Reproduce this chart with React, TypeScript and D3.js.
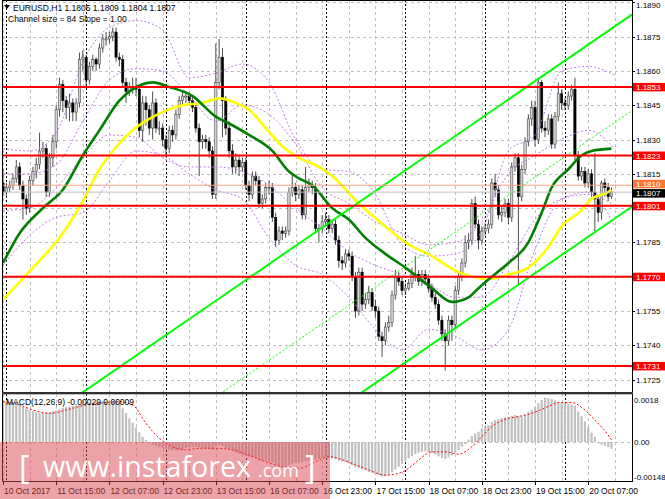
import React from 'react'
import * as d3 from 'd3'

// EURUSD H1, 10 Oct 23:00 .. 20 Oct 14:00 (184 bars)
const firstOpen = 1.1811
const closes = [
  1.1807, 1.1809, 1.1810, 1.1813, 1.1818, 1.1810, 1.1804, 1.1800, 1.1812, 1.1816,
  1.1819, 1.1825, 1.1826, 1.1807, 1.1822, 1.1829, 1.1843, 1.1854, 1.1847, 1.1844,
  1.1846, 1.1842, 1.1846, 1.1865, 1.1866, 1.1856, 1.1862, 1.1865, 1.1863, 1.1870,
  1.1874, 1.1874, 1.1875, 1.1877, 1.1866, 1.1865, 1.1855, 1.1851, 1.1853, 1.1853,
  1.1852, 1.1834, 1.1846, 1.1843, 1.1835, 1.1846, 1.1835, 1.1835, 1.1830, 1.1826,
  1.1834, 1.1832, 1.1841, 1.1847, 1.1849, 1.1849, 1.1847, 1.1844, 1.1835, 1.1829,
  1.1830, 1.1829, 1.1825, 1.1806, 1.1855, 1.1866, 1.1847, 1.1835, 1.1825, 1.1818,
  1.1821, 1.1818, 1.1820, 1.1810, 1.1806, 1.1814, 1.1812, 1.1802, 1.1804, 1.1809,
  1.1809, 1.1796, 1.1786, 1.1790, 1.1789, 1.1790, 1.1807, 1.1809, 1.1806, 1.1808,
  1.1797, 1.1809, 1.1810, 1.1809, 1.1791, 1.1791, 1.1794, 1.1795, 1.1791, 1.1793,
  1.1786, 1.1777, 1.1776, 1.1780, 1.1779, 1.1770, 1.1755, 1.1772, 1.1758, 1.1760,
  1.1763, 1.1757, 1.1755, 1.1744, 1.1742, 1.1748, 1.1750, 1.1762, 1.1770, 1.1768,
  1.1764, 1.1765, 1.1767, 1.1771, 1.1771, 1.1768, 1.1771, 1.1769, 1.1765, 1.1761,
  1.1758, 1.1751, 1.1745, 1.1742, 1.1751, 1.1749, 1.1764, 1.1770, 1.1776, 1.1785,
  1.1786, 1.1802, 1.1793, 1.1786, 1.1790, 1.1791, 1.1793, 1.1811, 1.1808, 1.1797,
  1.1798, 1.1802, 1.1796, 1.1818, 1.1822, 1.1805, 1.1817, 1.1829, 1.1839, 1.1844,
  1.1830, 1.1855, 1.1835, 1.1834, 1.1839, 1.1828, 1.1840, 1.1850, 1.1846, 1.1845,
  1.1849, 1.1852, 1.1823, 1.1814, 1.1816, 1.1811, 1.1815, 1.1807, 1.1804, 1.1798,
  1.1811, 1.1809, 1.1805, 1.1807,
]
const highs = [
  1.1817, 1.1811, 1.1812, 1.1815, 1.1821, 1.1820, 1.1812, 1.1806, 1.1814, 1.1818,
  1.1822, 1.1833, 1.1829, 1.1828, 1.1824, 1.1832, 1.1845, 1.1857, 1.1856, 1.1849,
  1.1850, 1.1848, 1.1848, 1.1868, 1.1869, 1.1867, 1.1864, 1.1867, 1.1866, 1.1872,
  1.1876, 1.1877, 1.1877, 1.1879, 1.1879, 1.1868, 1.1867, 1.1857, 1.1855, 1.1857,
  1.1857, 1.1854, 1.1849, 1.1849, 1.1845, 1.1851, 1.1848, 1.1838, 1.1837, 1.1832,
  1.1836, 1.1836, 1.1843, 1.1849, 1.1851, 1.1851, 1.1850, 1.1849, 1.1846, 1.1837,
  1.1832, 1.1832, 1.1831, 1.1827, 1.1872, 1.1874, 1.1870, 1.1849, 1.1838, 1.1828,
  1.1824, 1.1823, 1.1822, 1.1822, 1.1812, 1.1816, 1.1816, 1.1814, 1.1806, 1.1811,
  1.1812, 1.1811, 1.1798, 1.1792, 1.1792, 1.1792, 1.1809, 1.1815, 1.1811, 1.1810,
  1.1810, 1.1818, 1.1813, 1.1812, 1.1811, 1.1793, 1.1797, 1.1798, 1.1797, 1.1795,
  1.1795, 1.1788, 1.1779, 1.1782, 1.1782, 1.1781, 1.1772, 1.1774, 1.1774, 1.1763,
  1.1766, 1.1765, 1.1760, 1.1757, 1.1746, 1.1750, 1.1753, 1.1764, 1.1773, 1.1772,
  1.1770, 1.1767, 1.1769, 1.1774, 1.1779, 1.1773, 1.1773, 1.1773, 1.1771, 1.1767,
  1.1763, 1.1760, 1.1753, 1.1747, 1.1753, 1.1753, 1.1766, 1.1772, 1.1778, 1.1788,
  1.1789, 1.1804, 1.1805, 1.1795, 1.1792, 1.1793, 1.1795, 1.1813, 1.1815, 1.1810,
  1.1801, 1.1804, 1.1804, 1.1820, 1.1824, 1.1824, 1.1819, 1.1831, 1.1841, 1.1847,
  1.1847, 1.1857, 1.1856, 1.1838, 1.1841, 1.1841, 1.1842, 1.1855, 1.1852, 1.1848,
  1.1851, 1.1854, 1.1857, 1.1825, 1.1818, 1.1818, 1.1817, 1.1817, 1.1824, 1.1806,
  1.1812, 1.1813, 1.1811, 1.1809,
]
const lows = [
  1.1805, 1.1805, 1.1807, 1.1808, 1.1811, 1.1808, 1.1795, 1.1797, 1.1798, 1.1810,
  1.1813, 1.1817, 1.1822, 1.1805, 1.1805, 1.1818, 1.1826, 1.1840, 1.1842, 1.1839,
  1.1838, 1.1838, 1.1838, 1.1844, 1.1860, 1.1853, 1.1854, 1.1860, 1.1860, 1.1861,
  1.1868, 1.1871, 1.1872, 1.1873, 1.1864, 1.1862, 1.1853, 1.1846, 1.1849, 1.1850,
  1.1849, 1.1831, 1.1829, 1.1836, 1.1832, 1.1830, 1.1833, 1.1832, 1.1827, 1.1823,
  1.1824, 1.1829, 1.1830, 1.1839, 1.1845, 1.1846, 1.1845, 1.1842, 1.1833, 1.1814,
  1.1826, 1.1826, 1.1822, 1.1804, 1.1804, 1.1852, 1.1831, 1.1832, 1.1822, 1.1815,
  1.1815, 1.1814, 1.1816, 1.1808, 1.1803, 1.1804, 1.1810, 1.1800, 1.1800, 1.1802,
  1.1806, 1.1794, 1.1783, 1.1784, 1.1786, 1.1787, 1.1788, 1.1805, 1.1803, 1.1804,
  1.1795, 1.1795, 1.1807, 1.1806, 1.1789, 1.1785, 1.1789, 1.1792, 1.1789, 1.1789,
  1.1784, 1.1774, 1.1773, 1.1774, 1.1777, 1.1768, 1.1752, 1.1753, 1.1755, 1.1756,
  1.1758, 1.1755, 1.1752, 1.1742, 1.1735, 1.1740, 1.1746, 1.1748, 1.1760, 1.1766,
  1.1762, 1.1762, 1.1764, 1.1765, 1.1768, 1.1766, 1.1766, 1.1767, 1.1763, 1.1759,
  1.1756, 1.1749, 1.1742, 1.1729, 1.1740, 1.1742, 1.1747, 1.1762, 1.1768, 1.1774,
  1.1782, 1.1784, 1.1791, 1.1782, 1.1784, 1.1788, 1.1789, 1.1791, 1.1805, 1.1795,
  1.1794, 1.1796, 1.1793, 1.1794, 1.1816, 1.1766, 1.1803, 1.1815, 1.1827, 1.1836,
  1.1827, 1.1828, 1.1833, 1.1831, 1.1832, 1.1826, 1.1826, 1.1838, 1.1843, 1.1843,
  1.1843, 1.1847, 1.1821, 1.1812, 1.1812, 1.1809, 1.1809, 1.1805, 1.1790, 1.1794,
  1.1795, 1.1805, 1.1803, 1.1804,
]

// MACD(12,26,9) main values (histogram)
const macdMain = [
  0.00170, 0.00172, 0.00170, 0.00168, 0.00165, 0.00160, 0.00152, 0.00145, 0.00138, 0.00132,
  0.00128, 0.00125, 0.00124, 0.00126, 0.00128, 0.00132, 0.00136, 0.00142, 0.00146, 0.00150,
  0.00152, 0.00154, 0.00156, 0.00160, 0.00164, 0.00166, 0.00168, 0.00168, 0.00170, 0.00172,
  0.00174, 0.00174, 0.00176, 0.00176, 0.00172, 0.00168, 0.00145, 0.00124, 0.00102, 0.00082,
  0.00062, 0.00042, 0.00022, 0.00008, -0.00005, -0.00012, -0.00018, -0.00022, -0.00026, -0.00030,
  -0.00033, -0.00036, -0.00036, -0.00034, -0.00030, -0.00026, -0.00022, -0.00020, -0.00020, -0.00022,
  -0.00025, -0.00028, -0.00030, -0.00034, -0.00020, -0.00012, -0.00018, -0.00026, -0.00032, -0.00038,
  -0.00044, -0.00050, -0.00054, -0.00058, -0.00064, -0.00066, -0.00070, -0.00076, -0.00080, -0.00082,
  -0.00084, -0.00090, -0.00098, -0.00104, -0.00108, -0.00110, -0.00100, -0.00094, -0.00090, -0.00088,
  -0.00086, -0.00082, -0.00080, -0.00078, -0.00076, -0.00072, -0.00068, -0.00066, -0.00066, -0.00070,
  -0.00074, -0.00080, -0.00084, -0.00086, -0.00092, -0.00100, -0.00108, -0.00112, -0.00118, -0.00122,
  -0.00128, -0.00132, -0.00136, -0.00142, -0.00148, -0.00146, -0.00140, -0.00130, -0.00118, -0.00106,
  -0.00094, -0.00082, -0.00070, -0.00060, -0.00052, -0.00046, -0.00042, -0.00040, -0.00044, -0.00048,
  -0.00054, -0.00062, -0.00068, -0.00072, -0.00066, -0.00058, -0.00046, -0.00034, -0.00020, -0.00008,
  0.00010, 0.00026, 0.00036, 0.00044, 0.00058, 0.00066, 0.00072, 0.00086, 0.00094, 0.00098,
  0.00102, 0.00106, 0.00108, 0.00112, 0.00116, 0.00112, 0.00110, 0.00116, 0.00128, 0.00138,
  0.00150, 0.00166, 0.00180, 0.00190, 0.00188, 0.00184, 0.00178, 0.00172, 0.00168, 0.00166,
  0.00164, 0.00160, 0.00156, 0.00130, 0.00110, 0.00088, 0.00064, 0.00040, 0.00022, -0.00006,
  -0.00012, -0.00016, -0.00022, -0.00029,
]
// signal line, read at these bars
const signalIdx = [0, 5, 9, 14, 19, 25, 29, 35, 39, 43, 47, 51, 55, 59, 64, 69, 74, 79, 84, 89, 94, 98, 105, 110, 115, 119, 122, 125, 129, 133, 137, 141, 144, 147, 151, 155, 159, 164, 167, 171, 175, 178, 182, 183]
const signalVal = [
  0.00173, 0.00159, 0.00137, 0.00123, 0.00137, 0.00159, 0.00166, 0.00173, 0.00159, 0.00080,
  0.00016, -0.00020, -0.00034, -0.00027, -0.00027, -0.00034, -0.00056, -0.00085, -0.00106, -0.00113,
  -0.00085, -0.00063, -0.00092, -0.00120, -0.00142, -0.00134, -0.00113, -0.00077, -0.00042, -0.00042,
  -0.00052, -0.00020, 0.00023, 0.00066, 0.00097, 0.00109, 0.00123, 0.00152, 0.00169, 0.00169,
  0.00137, 0.00094, 0.00030, 0.00009,
]

// moving averages read at these bars
const greenIdx = [0, 5, 12, 18, 24, 29, 35, 39, 45, 50, 57, 64, 68, 74, 81, 86, 89, 93, 99, 104, 109, 115, 121, 129, 135, 140, 143, 147, 152, 158, 162, 165, 170, 174, 177, 183]
const greenVal = [1.1776, 1.1789, 1.1800, 1.1808, 1.1823, 1.1834, 1.1847, 1.1852, 1.1855, 1.1853, 1.1849, 1.1840, 1.1837, 1.1832, 1.1825, 1.1816, 1.1813, 1.1810, 1.1800, 1.1795, 1.1787, 1.1780, 1.1774, 1.1765, 1.1759, 1.1761, 1.1765, 1.1770, 1.1776, 1.1785, 1.1798, 1.1809, 1.1817, 1.1823, 1.1825, 1.1826]
const yellowIdx = [0, 9, 17, 24, 29, 33, 39, 44, 54, 60, 65, 70, 74, 79, 84, 89, 95, 99, 107, 115, 121, 129, 137, 146, 152, 158, 164, 168, 174, 177, 182, 183]
const yellowVal = [1.1760, 1.1774, 1.1787, 1.1803, 1.1817, 1.1825, 1.1834, 1.1839, 1.1845, 1.1846, 1.1848, 1.1846, 1.1843, 1.1835, 1.1827, 1.1822, 1.1818, 1.1814, 1.1802, 1.1792, 1.1785, 1.1779, 1.1772, 1.1769, 1.1771, 1.1774, 1.1783, 1.1792, 1.1799, 1.1804, 1.1807, 1.1808]

// dotted envelope bands, read every 8 bars
const bandIdx = [0, 8, 16, 24, 32, 40, 48, 56, 64, 72, 80, 88, 96, 104, 112, 120, 128, 136, 144, 152, 160, 168, 176, 184]
const bandOuterUp = [1.1826, 1.1825, 1.1833, 1.1864, 1.1879, 1.1882, 1.1878, 1.1857, 1.1859, 1.1863, 1.1855, 1.1830, 1.1817, 1.1816, 1.1806, 1.1784, 1.1779, 1.1780, 1.1790, 1.1825, 1.1832, 1.1860, 1.1862, 1.1858]
const bandInnerUp = [1.1815, 1.1815, 1.1819, 1.1838, 1.1856, 1.1861, 1.1860, 1.1849, 1.1838, 1.1845, 1.1841, 1.1828, 1.1809, 1.1802, 1.1794, 1.1789, 1.1784, 1.1785, 1.1794, 1.1815, 1.1823, 1.1830, 1.1834, 1.1826]
const bandInnerDn = [1.1799, 1.1800, 1.1809, 1.1822, 1.1832, 1.1831, 1.1822, 1.1818, 1.1818, 1.1816, 1.1810, 1.1800, 1.1791, 1.1781, 1.1775, 1.1771, 1.1767, 1.1761, 1.1761, 1.1776, 1.1795, 1.1804, 1.1806, 1.1801]
const bandOuterDn = [1.1775, 1.1788, 1.1796, 1.1798, 1.1812, 1.1825, 1.1823, 1.1815, 1.1808, 1.1804, 1.1787, 1.1775, 1.1771, 1.1761, 1.1747, 1.1738, 1.1747, 1.1744, 1.1738, 1.1747, 1.1782, 1.1804, 1.1807, 1.1792]

// equidistant channel: size 84 pips, slope 1.00 pip per bar
const channelBaseIdx = 100
const channelLower = 1.17115
const channelSlope = 0.0001
const channelSize = 0.0084

const levels = [1.1853, 1.1823, 1.1801, 1.1770, 1.1731]
const askPrice = 1.1810
const bidPrice = 1.1807
const priceTicks = [1.1890, 1.1875, 1.1860, 1.1845, 1.1830, 1.1815, 1.1800, 1.1785, 1.1770, 1.1755, 1.1740, 1.1725]
const macdTicks = [0.0018, 0, -0.00148]
const macdTickText = ['0.0018', '0.00', '-0.00148']
const timeIdx = [0, 16, 32, 48, 64, 80, 96, 112, 128, 144, 160, 176]
const timeText = ['10 Oct 2017', '11 Oct 15:00', '12 Oct 07:00', '12 Oct 23:00', '13 Oct 15:00', '16 Oct 07:00', '16 Oct 23:00', '17 Oct 15:00', '18 Oct 07:00', '18 Oct 23:00', '19 Oct 15:00', '20 Oct 07:00']
const gridIdx = [0, 8, 16, 24, 32, 40, 48, 56, 64, 72, 80, 88, 96, 104, 112, 120, 128, 136, 144, 152, 160, 168, 176, 184]
const daySepIdx = [1, 25, 49, 73, 97, 121, 145, 169]

const FONT = 'Liberation Sans, Arial, sans-serif'
const PLOT_R = 632
const MAIN_B = 392
const MACD_T = 394
const MACD_B = 481

export default function App() {
  const x = d3.scaleLinear().domain([0, closes.length - 1]).range([3, 611.5])
  const y = d3.scaleLinear().domain([1.17196, 1.1891]).range([MAIN_B, 0])
  const ym = d3.scaleLinear().domain([-0.001671, 0.002057]).range([MACD_B, MACD_T])

  const opens = closes.map((c, i) => (i === 0 ? firstOpen : closes[i - 1]))

  const lineP = d3.line<[number, number]>()
    .x(d => x(d[0]))
    .y(d => y(d[1]))
    .curve(d3.curveMonotoneX)
  const lineM = d3.line<[number, number]>()
    .x(d => x(d[0]))
    .y(d => ym(d[1]))
    .curve(d3.curveMonotoneX)

  const zip = (a: number[], b: number[]) => a.map((v, i) => [v, b[i]] as [number, number])
  const bands = [bandOuterUp, bandInnerUp, bandInnerDn, bandOuterDn]

  const chan = (off: number) => {
    const i0 = -20, i1 = 200
    const p = (i: number) => channelLower + (i - channelBaseIdx) * channelSlope + off
    return { x1: x(i0), y1: y(p(i0)), x2: x(i1), y2: y(p(i1)) }
  }

  // tick labels hidden behind the price tags
  const tagged = [...levels, askPrice, bidPrice]
  const visibleTicks = priceTicks.filter(p => !tagged.some(t => Math.abs(y(t) - y(p)) < 7))

  const bodyW = 2.3
  const tag = (v: number, fill: string, text: string, dy = 0) => (
    <g key={text + fill}>
      <rect x={633} y={y(v) - 4 + dy} width={32} height={8.5} fill={fill} />
      <text x={636} y={y(v) + 3 + dy} fontSize={8} fill="#fff" fontFamily={FONT}>{text}</text>
    </g>
  )

  return (
    <div>
      <style>{'body{margin:0}'}</style>
      <svg width={665} height={499} style={{ display: 'block', background: '#fff' }}>
        <defs>
          <clipPath id="mainClip"><rect x={3} y={0} width={PLOT_R - 3} height={MAIN_B} /></clipPath>
          <clipPath id="macdClip"><rect x={3} y={MACD_T} width={PLOT_R - 3} height={MACD_B - MACD_T} /></clipPath>
        </defs>

        {/* grid */}
        {priceTicks.map(p => (
          <line key={'h' + p} x1={3} x2={PLOT_R} y1={Math.round(y(p)) + 0.5} y2={Math.round(y(p)) + 0.5}
            stroke="#c0c0c0" strokeDasharray="3,3" />
        ))}
        <line x1={3} x2={PLOT_R} y1={Math.round(ym(0)) + 0.5} y2={Math.round(ym(0)) + 0.5} stroke="#c0c0c0" strokeDasharray="3,3" />
        {gridIdx.map(i => (
          <g key={'v' + i}>
            <line x1={Math.round(x(i)) + 0.5} x2={Math.round(x(i)) + 0.5} y1={0} y2={MAIN_B} stroke="#c0c0c0" strokeDasharray="3,3" />
            <line x1={Math.round(x(i)) + 0.5} x2={Math.round(x(i)) + 0.5} y1={MACD_T} y2={MACD_B} stroke="#c0c0c0" strokeDasharray="3,3" />
          </g>
        ))}
        {daySepIdx.map(i => (
          <g key={'d' + i}>
            <line x1={Math.round(x(i)) + 0.5} x2={Math.round(x(i)) + 0.5} y1={0} y2={MAIN_B} stroke="#000" strokeDasharray="2,2" />
            <line x1={Math.round(x(i)) + 0.5} x2={Math.round(x(i)) + 0.5} y1={MACD_T} y2={MACD_B} stroke="#000" strokeDasharray="2,2" />
          </g>
        ))}

        <g clipPath="url(#mainClip)">
          {/* candles */}
          {closes.map((c, i) => {
            const o = opens[i]
            const top = y(Math.max(o, c))
            const bot = y(Math.min(o, c))
            const bull = c >= o
            return (
              <g key={'c' + i}>
                <line x1={x(i)} x2={x(i)} y1={y(highs[i])} y2={y(lows[i])} stroke="#202020" strokeWidth={0.8} />
                <rect x={x(i) - bodyW / 2} y={top} width={bodyW} height={Math.max(1, bot - top)}
                  fill={bull ? '#d4d4d4' : '#000'} stroke={bull ? '#303030' : '#000'} strokeWidth={0.5} />
              </g>
            )
          })}

          {/* envelope bands */}
          {bands.map((b, k) => (
            <path key={'b' + k} d={lineP(zip(bandIdx, b)) || ''} fill="none" stroke="#c27be8" strokeWidth={1} strokeDasharray="2,2" />
          ))}

          {/* moving averages */}
          <path d={lineP(zip(yellowIdx, yellowVal)) || ''} fill="none" stroke="#ffff00" strokeWidth={2.6} />
          <path d={lineP(zip(greenIdx, greenVal)) || ''} fill="none" stroke="#008000" strokeWidth={2.6} />

          {/* channel */}
          {[0, channelSize].map(off => {
            const c = chan(off)
            return <line key={'ch' + off} {...c} stroke="#00ff00" strokeWidth={2} />
          })}
          <line {...chan(channelSize / 2)} stroke="#00ff00" strokeWidth={1} strokeDasharray="2,2" />

          {/* horizontal levels */}
          <line x1={3} x2={PLOT_R} y1={y(askPrice)} y2={y(askPrice)} stroke="#ffa080" strokeWidth={1} />
          <line x1={3} x2={PLOT_R} y1={y(bidPrice)} y2={y(bidPrice)} stroke="#c0c0c0" strokeWidth={1} />
          {levels.map(l => (
            <line key={'l' + l} x1={3} x2={PLOT_R} y1={y(l)} y2={y(l)} stroke="#ff0000" strokeWidth={2} />
          ))}
        </g>

        {/* MACD */}
        <g clipPath="url(#macdClip)">
          {macdMain.map((v, i) => (
            <rect key={'m' + i} x={x(i) - 1.1} width={2.2} y={Math.min(ym(v), ym(0))} height={Math.abs(ym(v) - ym(0))} fill="#c0c0c0" />
          ))}
          <path d={lineM(zip(signalIdx, signalVal)) || ''} fill="none" stroke="#ff0000" strokeWidth={1} strokeDasharray="2,2" />
        </g>

        {/* frame */}
        <line x1={2.5} x2={2.5} y1={0} y2={MACD_B} stroke="#000" />
        <line x1={PLOT_R + 0.5} x2={PLOT_R + 0.5} y1={0} y2={MACD_B} stroke="#000" />
        <line x1={2.5} x2={PLOT_R} y1={0.5} y2={0.5} stroke="#000" />
        <rect x={2.5} y={MAIN_B} width={PLOT_R - 2} height={2.5} fill="#808080" />
        <line x1={2.5} x2={PLOT_R} y1={MAIN_B + 0.5} y2={MAIN_B + 0.5} stroke="#303030" />
        <line x1={2.5} x2={PLOT_R} y1={MACD_T - 0.5} y2={MACD_T - 0.5} stroke="#303030" />
        <line x1={2.5} x2={PLOT_R + 1} y1={MACD_B + 0.5} y2={MACD_B + 0.5} stroke="#000" />

        {/* price axis */}
        {priceTicks.map(p => (
          <line key={'pk' + p} x1={PLOT_R} x2={PLOT_R + 3} y1={Math.round(y(p)) + 0.5} y2={Math.round(y(p)) + 0.5} stroke="#000" />
        ))}
        {visibleTicks.map(p => (
          <text key={'pt' + p} x={636} y={Math.max(y(p) + 3, 8)} fontSize={8} fontFamily={FONT} fill="#000">{p.toFixed(4)}</text>
        ))}
        {levels.map(l => tag(l, '#ff0000', l.toFixed(4)))}
        {tag(askPrice, '#ff7733', askPrice.toFixed(4), -1.5)}
        {tag(bidPrice, '#000000', bidPrice.toFixed(4), 1)}

        {macdTicks.map((v, k) => (
          <text key={'mt' + k} x={634} y={ym(v) + 3} fontSize={8} fontFamily={FONT} fill="#000">{macdTickText[k]}</text>
        ))}

        {/* time axis */}
        {timeIdx.map((i, k) => (
          <g key={'t' + i}>
            <line x1={Math.round(x(i)) + 0.5} x2={Math.round(x(i)) + 0.5} y1={MACD_B} y2={MACD_B + 4} stroke="#000" />
            <text x={x(i) + 1} y={494} fontSize={8.5} fontFamily={FONT} fill="#000">{timeText[k]}</text>
          </g>
        ))}

        {/* headers */}
        <path d="M4,5 L10,5 L7,9 Z" fill="#000" />
        <text x={13} y={11} fontSize={8.5} fontFamily={FONT} fill="#000">
          {'EURUSD,H1  1.1805 1.1809 1.1804 1.1807'}
        </text>
        <text x={8} y={22} fontSize={8.5} fontFamily={FONT} fill="#000">{'Channel size = 84 Slope = 1.00'}</text>
        <text x={6} y={405} fontSize={8.5} fontFamily={FONT} fill="#000">{'MACD(12,26,9) -0.00029 0.00009'}</text>

        {/* watermark */}
        <rect x={0} y={442} width={330} height={57} fill="#dc4650" opacity={0.5} />
        <text y={477} fill="#fff" fontFamily="Open Sans, DejaVu Sans, sans-serif">
          <tspan x={19} y={479} fontSize={32}>[</tspan>
          <tspan x={43} y={477} fontSize={28.6}>www.instaforex</tspan>
          <tspan x={258} y={477} fontSize={18}>.com</tspan>
          <tspan x={305} y={479} fontSize={32}>]</tspan>
        </text>
      </svg>
    </div>
  )
}
